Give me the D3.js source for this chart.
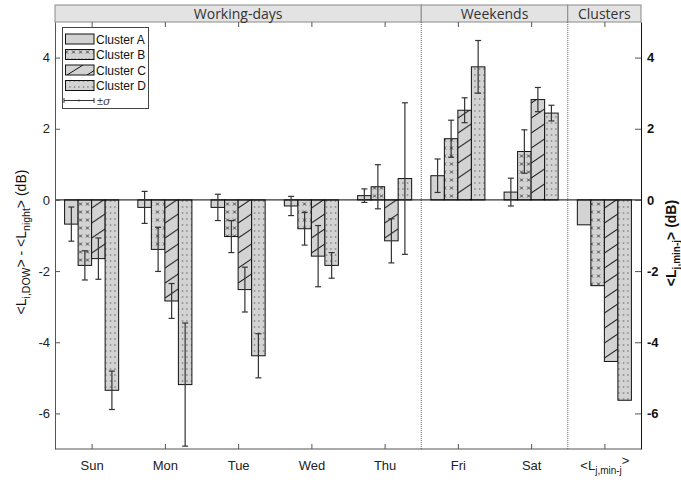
<!DOCTYPE html>
<html>
<head>
<meta charset="utf-8">
<script src="https://cdn.jsdelivr.net/npm/d3@7"></script>
<style>
  html, body { margin: 0; padding: 0; background: #fff; }
  svg { display: block; }
  text { font-family: "Liberation Sans", Arial, sans-serif; }
</style>
</head>
<body>
<svg id="chart" width="681" height="482"></svg>
<script>
// Day-of-week categories (last one is the cluster minimum level)
const categories = ["Sun", "Mon", "Tue", "Wed", "Thu", "Fri", "Sat", "Lmin"];
const clusters = ["Cluster A", "Cluster B", "Cluster C", "Cluster D"];

// Mean level differences (dB) per cluster
const clusterA = [-0.68, -0.21, -0.21, -0.17, 0.12, 0.68, 0.22, -0.70];
const clusterB = [-1.84, -1.39, -1.03, -0.81, 0.37, 1.72, 1.36, -2.41];
const clusterC = [-1.65, -2.84, -2.52, -1.58, -1.15, 2.52, 2.82, -4.54];
const clusterD = [-5.35, -5.19, -4.38, -1.84, 0.60, 3.74, 2.44, -5.63];

// Standard deviations (no error bars for the minimum-level group)
const sigmaA = [0.48, 0.45, 0.37, 0.27, 0.19, 0.47, 0.39, null];
const sigmaB = [0.41, 0.62, 0.45, 0.46, 0.62, 0.52, 0.61, null];
const sigmaC = [0.58, 0.49, 0.63, 0.86, 0.62, 0.35, 0.34, null];
const sigmaD = [0.54, 1.73, 0.62, 0.36, 2.13, 0.74, 0.22, null];

// Header sections and how many categories each spans
const sectionNames = ["Working-days", "Weekends", "Clusters"];
const sectionSpans = [5, 2, 1];

const yTicks = [-6, -4, -2, 0, 2, 4];

const values = [clusterA, clusterB, clusterC, clusterD];
const sigmas = [sigmaA, sigmaB, sigmaC, sigmaD];

const svg = d3.select("#chart");
const plotLeft = 55, plotRight = 641, plotTop = 22, plotBottom = 449;

const x = d3.scaleBand().domain(categories).range([plotLeft, plotRight]).padding(0);
const xc = d3.scaleBand().domain(clusters).range([0, x.bandwidth()])
  .paddingInner(0).paddingOuter(0.71);
const y = d3.scaleLinear().domain([-7, 5]).range([plotBottom, plotTop]);

const fillGray = "#d3d3d3";
const defs = svg.append("defs");

// Cross-mark fill
const px = defs.append("pattern").attr("id", "pat-x")
  .attr("patternUnits", "userSpaceOnUse").attr("width", 7).attr("height", 8);
px.append("rect").attr("width", 7).attr("height", 8).attr("fill", fillGray);
px.append("path").attr("d", "M2,2.5 L5,5.5 M5,2.5 L2,5.5")
  .attr("stroke", "#444").attr("stroke-width", 1);

// Dotted fill
const pd = defs.append("pattern").attr("id", "pat-dot")
  .attr("patternUnits", "userSpaceOnUse").attr("width", 4.5).attr("height", 6);
pd.append("rect").attr("width", 4.5).attr("height", 6).attr("fill", fillGray);
pd.append("rect").attr("x", 2).attr("y", 2.5).attr("width", 1).attr("height", 1).attr("fill", "#222");

// Diagonal hatch, one tile per bar so lines span the bar width
function hatch(id, x0, w, h, rise) {
  const p = defs.append("pattern").attr("id", id)
    .attr("patternUnits", "userSpaceOnUse")
    .attr("x", x0).attr("y", 0).attr("width", w).attr("height", h);
  p.append("rect").attr("width", w).attr("height", h).attr("fill", fillGray);
  p.append("line").attr("x1", 0).attr("y1", h - 2).attr("x2", w).attr("y2", h - 2 - rise)
    .attr("stroke", "#111").attr("stroke-width", 1);
  return `url(#${id})`;
}

function fillFor(ci, catIdx, bx, bw) {
  if (ci === 0) return fillGray;
  if (ci === 1) return "url(#pat-x)";
  if (ci === 2) return hatch("hatch-" + catIdx, bx, bw, 15, 9);
  return "url(#pat-dot)";
}

// Header band
const header = svg.append("g");
let acc = 0;
sectionNames.forEach((name, i) => {
  const x0 = x(categories[acc]);
  const x1 = x(categories[acc + sectionSpans[i] - 1]) + x.bandwidth();
  header.append("rect").attr("x", x0).attr("y", 5).attr("width", x1 - x0).attr("height", plotTop - 5)
    .attr("fill", "#e3e3e3").attr("stroke", "#8a8a8a").attr("stroke-width", 1);
  header.append("text").attr("x", (x0 + x1) / 2).attr("y", 18.5)
    .attr("text-anchor", "middle").attr("font-size", 14).attr("fill", "#333")
    .style("font-family", "'Open Sans', 'Noto Sans', sans-serif")
    .text(name);
  acc += sectionSpans[i];
});

// Section separators
acc = 0;
sectionSpans.slice(0, -1).forEach(s => {
  acc += s;
  const xs = x(categories[acc]);
  svg.append("line").attr("x1", xs).attr("x2", xs).attr("y1", plotTop).attr("y2", plotBottom)
    .attr("stroke", "#666").attr("stroke-width", 1).attr("stroke-dasharray", "1,1");
});

// Bars
const barG = svg.append("g");
categories.forEach((cat, k) => {
  clusters.forEach((cl, ci) => {
    const v = values[ci][k];
    const bx = x(cat) + xc(cl);
    const bw = xc.bandwidth();
    barG.append("rect")
      .attr("x", bx).attr("width", bw)
      .attr("y", Math.min(y(v), y(0)))
      .attr("height", Math.abs(y(v) - y(0)))
      .attr("fill", fillFor(ci, k, bx, bw))
      .attr("stroke", "#111").attr("stroke-width", 1);
  });
});

// Zero line
svg.append("line").attr("x1", plotLeft).attr("x2", plotRight).attr("y1", y(0)).attr("y2", y(0))
  .attr("stroke", "#000").attr("stroke-width", 1);

// Error bars
const errG = svg.append("g").attr("stroke", "#333").attr("stroke-width", 1.2);
categories.forEach((cat, k) => {
  clusters.forEach((cl, ci) => {
    const s = sigmas[ci][k];
    if (s == null) return;
    const v = values[ci][k];
    const cx = x(cat) + xc(cl) + xc.bandwidth() / 2;
    const y1 = y(v + s), y2 = y(v - s);
    errG.append("line").attr("x1", cx).attr("x2", cx).attr("y1", y1).attr("y2", y2);
    errG.append("line").attr("x1", cx - 3).attr("x2", cx + 3).attr("y1", y1).attr("y2", y1);
    errG.append("line").attr("x1", cx - 3).attr("x2", cx + 3).attr("y1", y2).attr("y2", y2);
  });
});

// Axes
const xMid = d3.scalePoint().domain(categories)
  .range([plotLeft + x.bandwidth() / 2, plotRight - x.bandwidth() / 2]);

const xAxis = svg.append("g").attr("transform", `translate(0,${plotBottom})`)
  .call(d3.axisBottom(xMid).tickSizeInner(-5).tickSizeOuter(0).tickPadding(12));
xAxis.select(".domain").attr("stroke", "#555").attr("d", `M${plotLeft},0H${plotRight}`);
xAxis.selectAll(".tick line").attr("stroke", "#555");
xAxis.selectAll("text").attr("font-size", 13).attr("fill", "#222")
  .style("font-family", "'Liberation Sans', Arial, sans-serif");
xAxis.selectAll(".tick text").filter(d => d === "Lmin").each(function () {
  const t = d3.select(this).text("");
  t.append("tspan").text("<L");
  t.append("tspan").attr("font-size", 10).attr("dy", 4).text("j,min-j");
  t.append("tspan").attr("dy", -9).text(">");
});

const topAxis = svg.append("g").attr("transform", `translate(0,${plotTop})`)
  .call(d3.axisTop(xMid).tickSizeInner(-5).tickSizeOuter(0).tickFormat(""));
topAxis.select(".domain").remove();
topAxis.selectAll(".tick line").attr("stroke", "#555");

const yAxis = svg.append("g").attr("transform", `translate(${plotLeft},0)`)
  .call(d3.axisLeft(y).tickValues(yTicks).tickSizeInner(-5).tickSizeOuter(0)
    .tickPadding(5).tickFormat(d => String(d)));
yAxis.select(".domain").attr("stroke", "#555");
yAxis.selectAll(".tick line").attr("stroke", "#555");
yAxis.selectAll("text").attr("font-size", 13).attr("fill", "#222")
  .style("font-family", "'Liberation Sans', Arial, sans-serif");

const yAxisR = svg.append("g").attr("transform", `translate(${plotRight},0)`)
  .call(d3.axisRight(y).tickValues(yTicks).tickSizeInner(-6).tickSizeOuter(0)
    .tickPadding(6).tickFormat(d => String(d)));
yAxisR.select(".domain").attr("stroke", "#111");
yAxisR.selectAll(".tick line").attr("stroke", "#555");
yAxisR.selectAll("text").attr("font-size", 13).attr("font-weight", "bold").attr("fill", "#111")
  .style("font-family", "'Liberation Sans', Arial, sans-serif");

// Axis titles
const lt = svg.append("text").attr("transform", "translate(26,242) rotate(-90)")
  .attr("text-anchor", "middle").attr("font-size", 14).attr("fill", "#111");
lt.append("tspan").text("<L");
lt.append("tspan").attr("font-size", 10.5).attr("dy", 4).text("i,DOW");
lt.append("tspan").attr("dy", -4).text("> - <L");
lt.append("tspan").attr("font-size", 10.5).attr("dy", 4).text("night");
lt.append("tspan").attr("dy", -4).text("> (dB)");

const rt = svg.append("text").attr("transform", "translate(676,243) rotate(-90)")
  .attr("text-anchor", "middle").attr("font-size", 14).attr("font-weight", "bold").attr("fill", "#111");
rt.append("tspan").text("<L");
rt.append("tspan").attr("font-size", 10).attr("dy", 4).text("j,min-j");
rt.append("tspan").attr("dy", -4).text("> (dB)");

// Legend
const lg = svg.append("g");
lg.append("rect").attr("x", 62.5).attr("y", 27.5).attr("width", 86).attr("height", 81)
  .attr("fill", "#fff").attr("stroke", "#444").attr("stroke-width", 1);
const rowY = [34, 49.5, 65, 80.5];
clusters.forEach((cl, ci) => {
  let f;
  if (ci === 0) f = fillGray;
  else if (ci === 1) f = "url(#pat-x)";
  else if (ci === 2) {
    const p = defs.append("pattern").attr("id", "hatch-legend")
      .attr("patternUnits", "userSpaceOnUse").attr("x", 65).attr("y", rowY[ci])
      .attr("width", 20).attr("height", 10);
    p.append("rect").attr("width", 20).attr("height", 10).attr("fill", fillGray);
    p.append("line").attr("x1", 2).attr("y1", 10).attr("x2", 18).attr("y2", 0)
      .attr("stroke", "#111").attr("stroke-width", 1);
    f = "url(#hatch-legend)";
  } else f = "url(#pat-dot)";
  lg.append("rect").attr("x", 65.5).attr("y", rowY[ci]).attr("width", 28.5).attr("height", 10)
    .attr("fill", f).attr("stroke", "#111").attr("stroke-width", 1);
  lg.append("text").attr("x", 96).attr("y", rowY[ci] + 9.5).attr("font-size", 12)
    .attr("fill", "#111").text(cl);
});
const ey = 100.5;
const eg = lg.append("g").attr("stroke", "#333").attr("stroke-width", 1);
eg.append("line").attr("x1", 64).attr("x2", 94).attr("y1", ey).attr("y2", ey);
eg.append("line").attr("x1", 64).attr("x2", 64).attr("y1", ey - 2.5).attr("y2", ey + 2.5);
eg.append("line").attr("x1", 94).attr("x2", 94).attr("y1", ey - 2.5).attr("y2", ey + 2.5);
eg.append("line").attr("x1", 79).attr("x2", 79).attr("y1", ey - 1).attr("y2", ey + 1);
const st = lg.append("text").attr("x", 97).attr("y", ey + 4).attr("font-size", 11).attr("fill", "#444");
st.append("tspan").text("±");
st.append("tspan").attr("font-style", "italic").style("font-family", "'DejaVu Serif', serif").text("σ");
</script>
</body>
</html>
